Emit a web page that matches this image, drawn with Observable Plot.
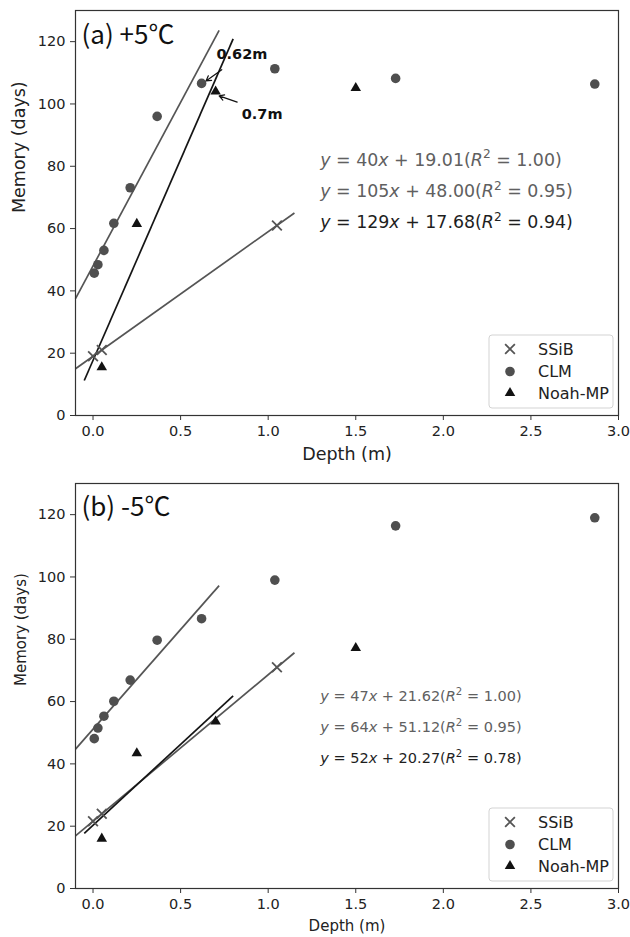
<!DOCTYPE html>
<html>
<head>
<meta charset="utf-8">
<script src="https://cdn.jsdelivr.net/npm/d3@7"></script>
<script src="https://cdn.jsdelivr.net/npm/@observablehq/plot@0.6"></script>
<style>
  body { margin: 0; background: #fff; }
  #chart { width: 630px; }
  #chart svg { display: block; overflow: visible; }
</style>
</head>
<body>
<div id="chart"></div>
<script>
// ---------- data ----------
const models = ["SSiB", "CLM", "Noah-MP"];
const ssibDepth = [0.0, 0.05, 1.05];
const clmDepth = [0.0071, 0.0279, 0.0623, 0.1189, 0.2122, 0.3661, 0.6198, 1.0380, 1.7276, 2.8646];
const noahDepth = [0.05, 0.25, 0.7, 1.5];

// (a) +5℃
const ssibWarm = [19.0, 21.0, 61.0];
const clmWarm = [45.7, 48.4, 53.0, 61.7, 73.1, 96.0, 106.6, 111.3, 108.2, 106.4];
const noahWarm = [15.5, 61.5, 104.0, 105.1];
const slopesWarm = [40, 105, 129];
const interceptsWarm = [19.01, 48.00, 17.68];
const r2Warm = ["1.00", "0.95", "0.94"];
const eqYWarm = [80, 70, 60];

// (b) -5℃
const ssibCold = [21.6, 24.0, 71.0];
const clmCold = [48.1, 51.5, 55.3, 60.1, 66.9, 79.7, 86.6, 99.0, 116.4, 119.0];
const noahCold = [16.0, 43.4, 53.6, 77.2];
const slopesCold = [47, 64, 52];
const interceptsCold = [21.62, 51.12, 20.27];
const r2Cold = ["1.00", "0.95", "0.78"];
const eqYCold = [60, 50, 40];

// fit line extents (depth, m)
const fitStart = [-0.1, -0.1, -0.05];
const fitEnd = [1.15, 0.72, 0.80];
const eqX = 1.3;

// annotations for panel (a)
const annoLabels = ["0.62m", "0.7m"];
const annoX = [0.705, 0.849];
const annoY = [116, 96.6];
const arrowFromX = [0.735, 0.823];
const arrowFromY = [111, 100.6];
const arrowToX = [0.645, 0.72];
const arrowToY = [107.4, 102.6];

const xTicks = [0, 0.5, 1.0, 1.5, 2.0, 2.5, 3.0];
const yTicks = [0, 20, 40, 60, 80, 100, 120];

// ---------- style ----------
const lineColors = ["#555555", "#555555", "#151515"];
const eqColors = ["#606060", "#606060", "#1e1e1e"];

function panel(opts) {
  const {title, ssib, clm, noah, slopes, intercepts, r2, eqY, height, marginTop, marginBottom,
         labelFont, eqFont, labelDx, labelDy, titleDy, anno} = opts;
  const ssibPts = ssibDepth.map((d, i) => ({x: d, y: ssib[i]}));
  const clmPts = clmDepth.map((d, i) => ({x: d, y: clm[i]}));
  const noahPts = noahDepth.map((d, i) => ({x: d, y: noah[i]}));
  const fits = models.map((m, i) => ({
    model: m,
    x1: fitStart[i], x2: fitEnd[i],
    y1: slopes[i] * fitStart[i] + intercepts[i],
    y2: slopes[i] * fitEnd[i] + intercepts[i],
    color: lineColors[i]
  }));
  const marks = [
    Plot.link(fits, {x1: "x1", y1: "y1", x2: "x2", y2: "y2", stroke: "color", strokeWidth: 1.7}),
    Plot.dot(ssibPts, {x: "x", y: "y", symbol: "times", r: 4.5, stroke: "#555", strokeWidth: 1.8}),
    Plot.dot(clmPts, {x: "x", y: "y", symbol: "circle", r: 4.8, fill: "#4f4f4f"}),
    Plot.dot(noahPts, {x: "x", y: "y", symbol: "triangle", r: 3.9, fill: "#121212"}),
    Plot.frame({stroke: "#333", strokeWidth: 1.2}),
    Plot.axisX({ticks: xTicks, tickFormat: d3.format(".1f"), tickSize: 5, tickPadding: 5, label: null, stroke: "#333"}),
    Plot.axisY({ticks: yTicks, tickSize: 5, tickPadding: 5, label: null, stroke: "#333"}),
    Plot.text(["Depth (m)"], {frameAnchor: "bottom", dy: labelDy, fontSize: labelFont, fill: "#222"}),
    Plot.text(["Memory (days)"], {frameAnchor: "left", rotate: -90, dx: labelDx, fontSize: labelFont, fill: "#222"}),
    Plot.text([title], {frameAnchor: "top-left", textAnchor: "start", lineAnchor: "middle", dx: 6, dy: titleDy,
      fontSize: 26, fontFamily: "Noto Sans CJK SC", fill: "#111"})
  ];
  if (anno) {
    const annoPts = annoLabels.map((t, i) => ({t, x: annoX[i], y: annoY[i]}));
    const arrows = annoLabels.map((t, i) => ({x1: arrowFromX[i], y1: arrowFromY[i], x2: arrowToX[i], y2: arrowToY[i]}));
    marks.push(
      Plot.arrow(arrows, {x1: "x1", y1: "y1", x2: "x2", y2: "y2", stroke: "#111", strokeWidth: 1.2, headLength: 7, bend: false}),
      Plot.text(annoPts, {x: "x", y: "y", text: "t", textAnchor: "start", fontWeight: "bold", fontSize: 14.5, fill: "#111"})
    );
  }
  const plot = Plot.plot({
    width: 630, height, marginLeft: 75, marginRight: 12, marginTop, marginBottom,
    style: {fontFamily: "DejaVu Sans", fontSize: "14.5px", color: "#222", background: "#fff"},
    x: {domain: [-0.1, 3.0]},
    y: {domain: [0, 130]},
    color: {type: "identity"},
    marks
  });

  // equations (mathtext-like) drawn at data positions via the plot's scales
  const sx = plot.scale("x"), sy = plot.scale("y");
  const svg = d3.select(plot);
  const eqG = svg.append("g").attr("font-family", "DejaVu Sans").attr("font-size", eqFont)
    .attr("text-anchor", "start");
  models.forEach((m, i) => {
    const t = eqG.append("text")
      .attr("x", sx.apply(eqX)).attr("y", sy.apply(eqY[i]))
      .attr("text-anchor", "start")
      .attr("fill", eqColors[i]);
    t.append("tspan").attr("font-style", "italic").text("y");
    t.append("tspan").text(" = " + slopes[i]);
    t.append("tspan").attr("font-style", "italic").text("x");
    t.append("tspan").text(" + " + intercepts[i].toFixed(2) + "(");
    t.append("tspan").attr("font-style", "italic").text("R");
    t.append("tspan").attr("font-size", eqFont * 0.7).attr("dy", -eqFont * 0.42).text("2");
    t.append("tspan").attr("dy", eqFont * 0.42).text(" = " + r2[i] + ")");
  });

  // legend (lower right, inside frame)
  const fb = sy.apply(0);
  const lg = svg.append("g").attr("font-family", "DejaVu Sans").attr("font-size", 16)
    .attr("text-anchor", "start");
  lg.append("rect").attr("x", 489).attr("y", fb - 80).attr("width", 124).attr("height", 73)
    .attr("rx", 3).attr("fill", "#fff").attr("fill-opacity", 0.85).attr("stroke", "#d3d3d3");
  const legendSym = [d3.symbolTimes, d3.symbolCircle, d3.symbolTriangle];
  const legendR = [4.5, 4.8, 3.9];
  const legendOff = [66, 43.5, 22];
  models.forEach((m, i) => {
    const cy = fb - legendOff[i];
    const p = lg.append("path")
      .attr("transform", `translate(510,${cy})`)
      .attr("d", d3.symbol(legendSym[i], Math.PI * legendR[i] * legendR[i])());
    if (i === 0) p.attr("fill", "none").attr("stroke", "#555").attr("stroke-width", 1.8);
    else p.attr("fill", i === 1 ? "#4f4f4f" : "#121212");
    lg.append("text").attr("x", 538).attr("y", cy).attr("dy", "0.36em")
      .attr("text-anchor", "start").attr("fill", "#222").text(m);
  });
  return plot;
}

const chart = document.getElementById("chart");
chart.append(panel({
  title: "(a) +5℃", ssib: ssibWarm, clm: clmWarm, noah: noahWarm,
  slopes: slopesWarm, intercepts: interceptsWarm, r2: r2Warm, eqY: eqYWarm,
  height: 470, marginTop: 10, marginBottom: 55,
  labelFont: 17.5, eqFont: 17.4, labelDx: -56.5, labelDy: 44, titleDy: 25.5, anno: true
}));
chart.append(panel({
  title: "(b) -5℃", ssib: ssibCold, clm: clmCold, noah: noahCold,
  slopes: slopesCold, intercepts: interceptsCold, r2: r2Cold, eqY: eqYCold,
  height: 467, marginTop: 13, marginBottom: 49,
  labelFont: 15, eqFont: 14.5, labelDx: -54.5, labelDy: 42, titleDy: 24.5, anno: false
}));
</script>
</body>
</html>
